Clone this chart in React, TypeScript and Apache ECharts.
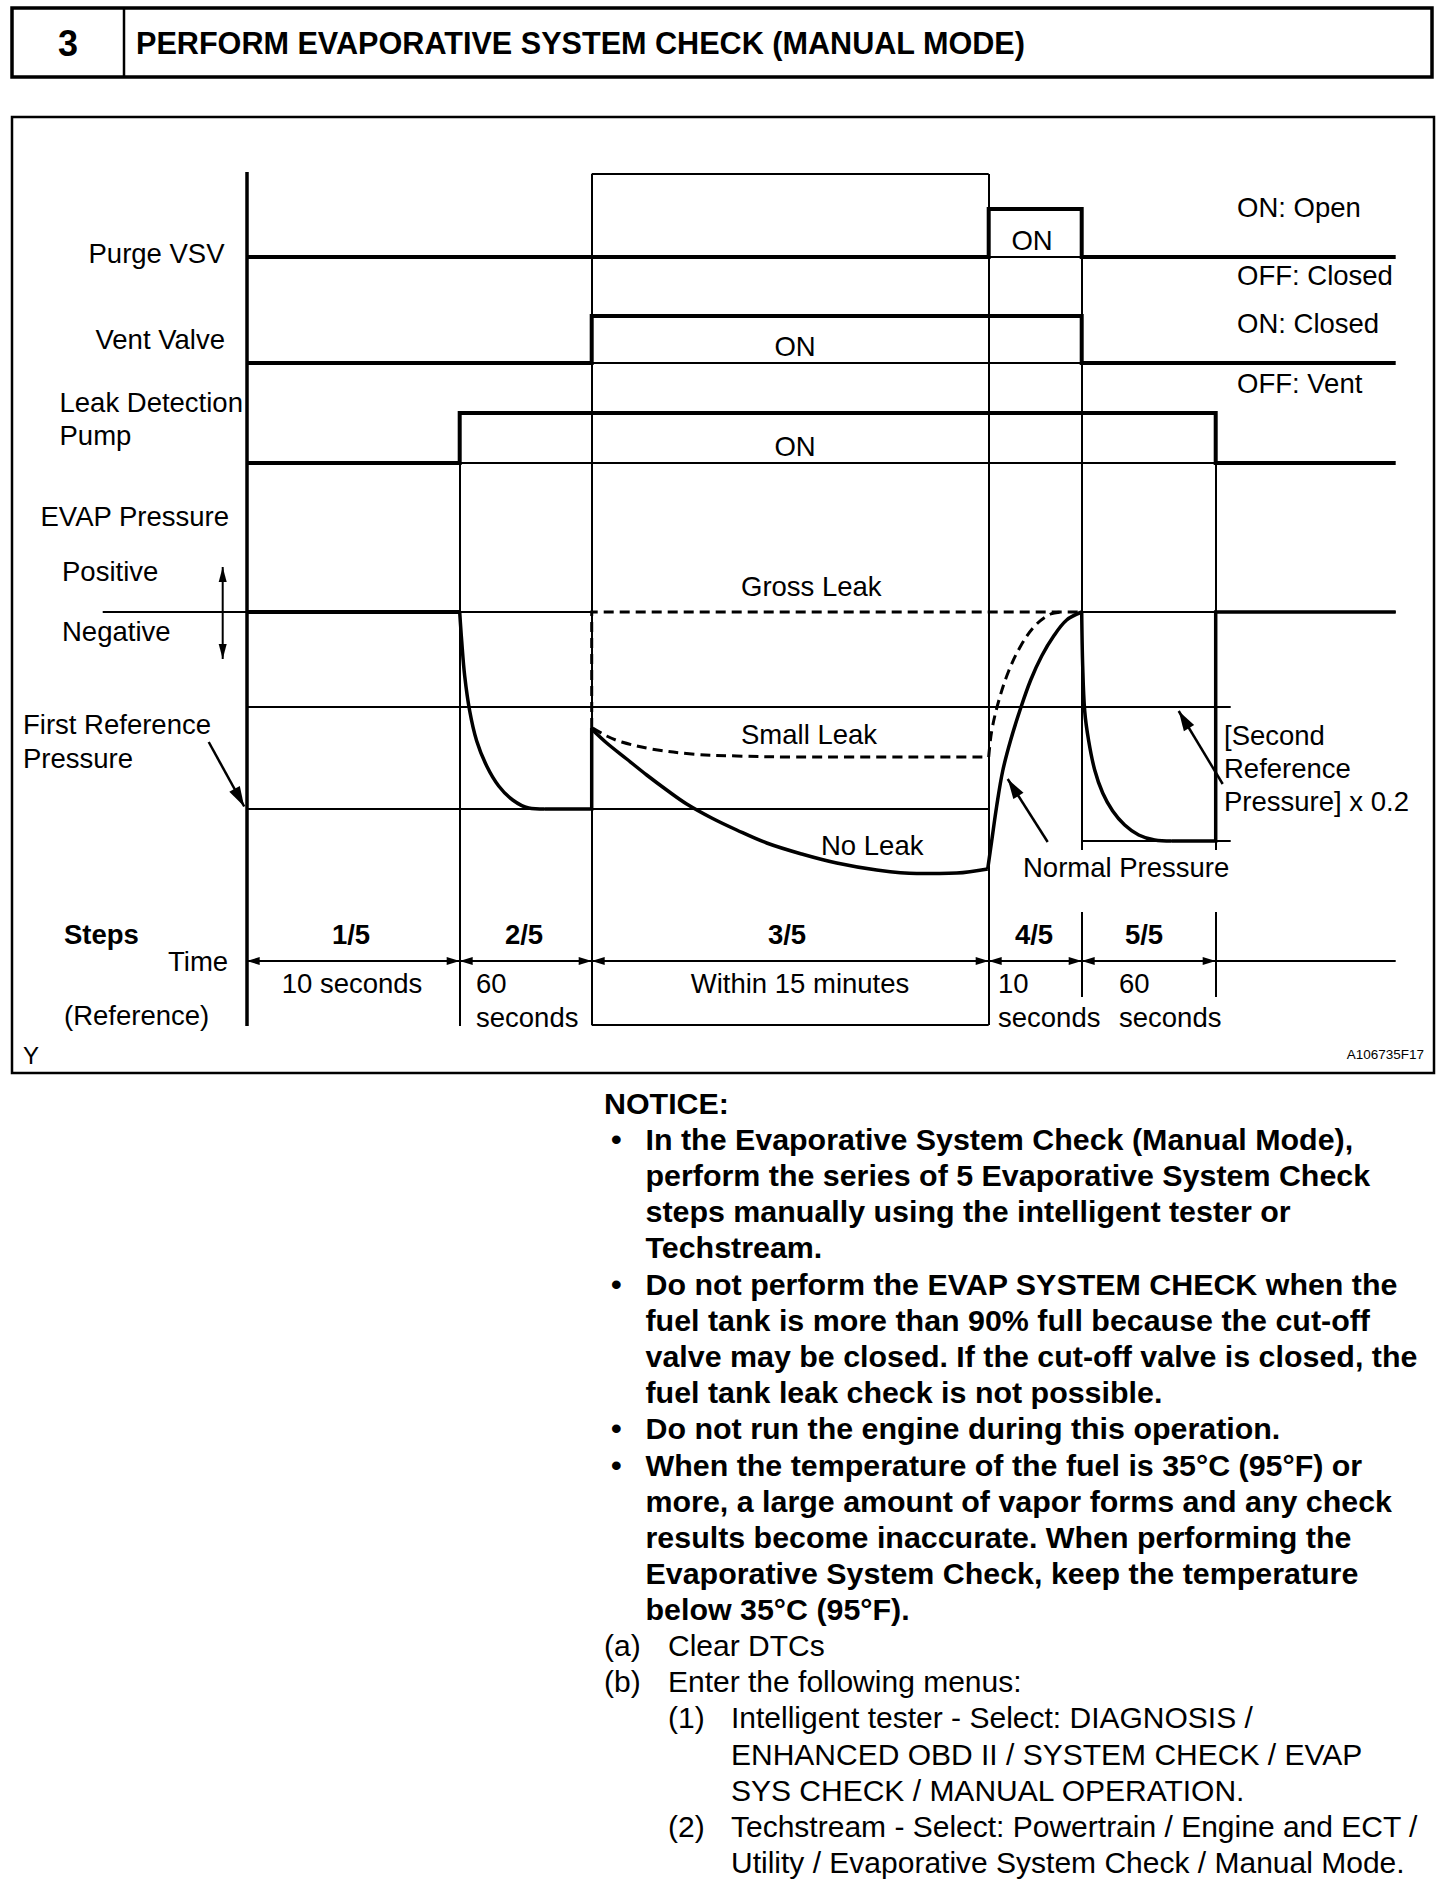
import React, { useEffect, useRef } from "react";
import * as echarts from "echarts";

const FONT = '"Liberation Sans", Arial, Helvetica, sans-serif';

// ---- time axis (diagram units) ----
const stepEdges = [0, 21.3, 34.5, 74.2, 83.5, 96.9];
const timeEnd = 114.9;
const stepLabels = ["1/5", "2/5", "3/5", "4/5", "5/5"];

// ---- control signals [time, level] ----
const purgeVSV = [[0, 76.9], [74.2, 76.9], [74.2, 81.7], [83.5, 81.7], [83.5, 76.9], [114.9, 76.9]];
const ventValve = [[0, 66.3], [34.5, 66.3], [34.5, 71.0], [83.5, 71.0], [83.5, 66.3], [114.9, 66.3]];
const leakPump = [[0, 56.3], [21.3, 56.3], [21.3, 61.3], [96.9, 61.3], [96.9, 56.3], [114.9, 56.3]];

// ---- EVAP pressure [time, level] ----
const evapAtmosphere = [[0, 41.4], [21.3, 41.4]];
const evapPumpDown = [[21.3, 41.4], [21.5, 38.5], [21.8, 35], [22.3, 31.5], [23, 28.5], [24, 26], [25.2, 24], [26.6, 22.6], [28.2, 21.8], [29.8, 21.7]];
const evapFirstRef = [[29.8, 21.7], [34.5, 21.7], [34.5, 29.8]];
const noLeak = [[34.6, 29.6], [36, 28.3], [38, 26.7], [40, 25.1], [42, 23.6], [44, 22.2], [46.5, 20.8], [49, 19.6], [52, 18.3], [55.5, 17.2], [59, 16.3], [63, 15.6], [67, 15.25], [71, 15.3], [74.1, 15.7]];
const normalPressure = [[74.1, 15.7], [74.5, 18.5], [75, 22], [75.6, 25.5], [76.4, 28.6], [77.4, 31.8], [78.4, 34.6], [79.5, 37], [80.7, 39], [82, 40.6], [83.5, 41.4]];
const secondDecay = [[83.5, 41.4], [83.6, 36], [83.8, 31.5], [84.2, 28.5], [84.8, 25.6], [85.6, 23.3], [86.6, 21.5], [87.8, 20.1], [89.2, 19.1], [90.8, 18.6], [92.5, 18.5]];
const secondRefHold = [[92.5, 18.5], [96.9, 18.5], [96.9, 41.4], [114.9, 41.4]];
const grossLeak = [[34.5, 29.8], [34.5, 41.4], [83.5, 41.4]];
const smallLeak = [[34.6, 29.8], [36, 29], [37.5, 28.4], [40.5, 27.7], [44.5, 27.2], [49, 27], [55, 26.9], [74.2, 26.9]];
const smallLeakRise = [[74.2, 26.9], [74.5, 29.5], [75.2, 32.5], [76.2, 35.5], [77.4, 38], [78.8, 40], [80.4, 41.2], [81.8, 41.4]];

// ---- thin reference lines ----
const hLines = [ // [level, from, to]
  [41.4, -14.4, 34.5],
  [41.4, 83.5, 114.9],
  [31.9, 0, 98.4],
  [21.7, 0, 74.2],
  [18.5, 83.5, 98.4],
  [76.9, 74.2, 83.5],
  [66.3, 34.5, 83.5],
  [56.3, 21.3, 96.9],
  [85.2, 34.5, 74.2],
  [0.1, 34.5, 74.2],
  [6.5, 96.9, 114.9],
];
const vLines = [ // [time, from, to]
  [21.3, 61.3, 0],
  [34.5, 85.2, 0.1],
  [74.2, 85.2, 0.1],
  [83.5, 81.7, 17.6],
  [96.9, 61.3, 17.6],
  [83.5, 11.4, 2.9],
  [96.9, 11.4, 2.9],
];
const mainAxis = [[0, 85.4], [0, 0]];
const stepArrowLevel = 6.5;

// ---- annotation arrows [x1, y1, x2, y2] ----
const posNegArrow = [[-2.4, 45.9, -2.4, 36.7]];
const pointerArrows = [
  [-3.8, 28.4, -0.25, 21.95],
  [80.1, 18.4, 76.1, 24.7],
  [97.6, 24.2, 93.2, 31.5],
];

// ---- notice text ----
const noticeLines = [
  ["head", "", "NOTICE:"],
  ["bullet", "•", "In the Evaporative System Check (Manual Mode),"],
  ["cont", "", "perform the series of 5 Evaporative System Check"],
  ["cont", "", "steps manually using the intelligent tester or"],
  ["cont", "", "Techstream."],
  ["bullet", "•", "Do not perform the EVAP SYSTEM CHECK when the"],
  ["cont", "", "fuel tank is more than 90% full because the cut-off"],
  ["cont", "", "valve may be closed. If the cut-off valve is closed, the"],
  ["cont", "", "fuel tank leak check is not possible."],
  ["bullet", "•", "Do not run the engine during this operation."],
  ["bullet", "•", "When the temperature of the fuel is 35°C (95°F) or"],
  ["cont", "", "more, a large amount of vapor forms and any check"],
  ["cont", "", "results become inaccurate. When performing the"],
  ["cont", "", "Evaporative System Check, keep the temperature"],
  ["cont", "", "below 35°C (95°F)."],
  ["alpha", "(a)", "Clear DTCs"],
  ["alpha", "(b)", "Enter the following menus:"],
  ["num", "(1)", "Intelligent tester - Select: DIAGNOSIS /"],
  ["numcont", "", "ENHANCED OBD II / SYSTEM CHECK / EVAP"],
  ["numcont", "", "SYS CHECK / MANUAL OPERATION."],
  ["num", "(2)", "Techstream - Select: Powertrain / Engine and ECT /"],
  ["numcont", "", "Utility / Evaporative System Check / Manual Mode."],
];

function txt(text: string, x: number, y: number, o: any = {}) {
  const align = o.align || "left";
  return {
    type: "text",
    x,
    y,
    z: 20,
    silent: true,
    style: {
      text,
      fill: "#000",
      fontSize: o.size || 27.5,
      fontWeight: o.bold ? "bold" : "normal",
      fontFamily: FONT,
      textAlign: align,
      align,
      textVerticalAlign: "middle",
      verticalAlign: "middle",
    },
  };
}

// custom-series renderer: shaft + filled arrowheads, positioned through api.coord
function arrowRenderer(headLen: number, headHalf: number, both: boolean, lineWidth: number) {
  return (params: any, api: any) => {
    const a = api.coord([api.value(0), api.value(1)]);
    const b = api.coord([api.value(2), api.value(3)]);
    const dx = b[0] - a[0];
    const dy = b[1] - a[1];
    const L = Math.hypot(dx, dy) || 1;
    const ux = dx / L;
    const uy = dy / L;
    const nx = -uy;
    const ny = ux;
    const head = (tip: number[], sx: number, sy: number) => ({
      type: "polygon",
      shape: {
        points: [
          [tip[0], tip[1]],
          [tip[0] - sx * headLen + nx * headHalf, tip[1] - sy * headLen + ny * headHalf],
          [tip[0] - sx * headLen - nx * headHalf, tip[1] - sy * headLen - ny * headHalf],
        ],
      },
      style: { fill: "#000", stroke: "none" },
    });
    const children: any[] = [
      { type: "line", shape: { x1: a[0], y1: a[1], x2: b[0], y2: b[1] }, style: { stroke: "#000", lineWidth } },
      head(b, ux, uy),
    ];
    if (both) children.push(head(a, -ux, -uy));
    return { type: "group", children };
  };
}

function buildOption() {
  const black = "#000";
  const thick = (data: number[][], extra: any = {}) => ({
    type: "line",
    data,
    symbol: "none",
    silent: true,
    z: 5,
    smooth: extra.smooth || false,
    lineStyle: { color: black, width: extra.width || 4, type: extra.dash ? [10, 6] : "solid", join: "miter", cap: "butt" },
  });

  const thinData: any[] = [];
  hLines.forEach(([y, a, b]) => thinData.push({ coords: [[a, y], [b, y]] }));
  vLines.forEach(([x, a, b]) => thinData.push({ coords: [[x, a], [x, b]] }));

  const stepArrowData = stepEdges.slice(0, -1).map((e, i) => [e, stepArrowLevel, stepEdges[i + 1], stepArrowLevel]);

  const graphics: any[] = [];
  // header
  graphics.push({ type: "rect", z: 10, shape: { x: 12, y: 8, width: 1420, height: 69 }, style: { fill: "none", stroke: black, lineWidth: 3.5 } });
  graphics.push({ type: "line", z: 10, shape: { x1: 124, y1: 8, x2: 124, y2: 77 }, style: { stroke: black, lineWidth: 2.5 } });
  graphics.push(txt("3", 68, 43, { size: 36, bold: true, align: "center" }));
  graphics.push(txt("PERFORM EVAPORATIVE SYSTEM CHECK (MANUAL MODE)", 136, 43, { size: 30.6, bold: true }));
  // diagram frame
  graphics.push({ type: "rect", z: 10, shape: { x: 12, y: 117, width: 1422, height: 956 }, style: { fill: "none", stroke: black, lineWidth: 2.5 } });

  // left labels
  graphics.push(txt("Purge VSV", 88.5, 253));
  graphics.push(txt("Vent Valve", 95.5, 339));
  graphics.push(txt("Leak Detection", 59.5, 402));
  graphics.push(txt("Pump", 59.5, 435));
  graphics.push(txt("EVAP Pressure", 40.5, 516));
  graphics.push(txt("Positive", 62, 571));
  graphics.push(txt("Negative", 62, 631));
  graphics.push(txt("First Reference", 23, 724));
  graphics.push(txt("Pressure", 23, 758));
  graphics.push(txt("Steps", 64, 934, { bold: true }));
  graphics.push(txt("Time", 168, 961));
  graphics.push(txt("(Reference)", 64, 1015));
  graphics.push(txt("Y", 23, 1055, { size: 24 }));
  // right labels
  graphics.push(txt("ON: Open", 1237, 207));
  graphics.push(txt("OFF: Closed", 1237, 275));
  graphics.push(txt("ON: Closed", 1237, 323));
  graphics.push(txt("OFF: Vent", 1237, 383));
  // ON labels
  graphics.push(txt("ON", 1032, 240, { align: "center" }));
  graphics.push(txt("ON", 795, 346, { align: "center" }));
  graphics.push(txt("ON", 795, 446, { align: "center" }));
  // pressure labels
  graphics.push(txt("Gross Leak", 741, 586));
  graphics.push(txt("Small Leak", 741, 734));
  graphics.push(txt("No Leak", 821, 845));
  graphics.push(txt("Normal Pressure", 1023, 867));
  graphics.push(txt("[Second", 1224, 735));
  graphics.push(txt("Reference", 1224, 768));
  graphics.push(txt("Pressure] x 0.2", 1224, 801));
  // steps
  const stepCenters = [351, 524, 787, 1034, 1144];
  stepLabels.forEach((s, i) => graphics.push(txt(s, stepCenters[i], 934, { bold: true, align: "center" })));
  graphics.push(txt("10 seconds", 352, 983, { align: "center" }));
  graphics.push(txt("60", 476, 983));
  graphics.push(txt("seconds", 476, 1017));
  graphics.push(txt("Within 15 minutes", 800, 983, { align: "center" }));
  graphics.push(txt("10", 998, 983));
  graphics.push(txt("seconds", 998, 1017));
  graphics.push(txt("60", 1119, 983));
  graphics.push(txt("seconds", 1119, 1017));
  graphics.push(txt("A106735F17", 1424, 1054, { size: 13.5, align: "right" }));

  // notice
  noticeLines.forEach(([kind, marker, text], i) => {
    const y = 1102.5 + 36.2 * i;
    const bold = kind === "head" || kind === "bullet" || kind === "cont";
    const size = bold ? 30.4 : 30;
    let mx = 0;
    let tx = 604;
    if (kind === "bullet") { mx = 611; tx = 645.5; }
    else if (kind === "cont") tx = 645.5;
    else if (kind === "alpha") { mx = 604; tx = 668; }
    else if (kind === "num") { mx = 668; tx = 731; }
    else if (kind === "numcont") tx = 731;
    if (marker) graphics.push(txt(marker, mx, y, { size, bold }));
    graphics.push(txt(text, tx, y, { size, bold }));
  });

  const arrowSeries = (data: number[][], render: any) => ({
    type: "custom",
    coordinateSystem: "cartesian2d",
    silent: true,
    clip: false,
    z: 4,
    encode: { x: [0, 2], y: [1, 3] },
    data,
    renderItem: render,
  });

  return {
    animation: false,
    backgroundColor: "#ffffff",
    grid: { left: 6.7, top: 126, width: 1440, height: 900, containLabel: false, show: false },
    xAxis: { type: "value", min: -24, max: 120, show: false },
    yAxis: { type: "value", min: 0, max: 90, show: false },
    series: [
      {
        type: "lines",
        coordinateSystem: "cartesian2d",
        silent: true,
        z: 2,
        symbol: "none",
        lineStyle: { color: black, width: 2, opacity: 1, curveness: 0 },
        data: thinData,
      },
      {
        type: "lines",
        coordinateSystem: "cartesian2d",
        silent: true,
        z: 3,
        symbol: "none",
        lineStyle: { color: black, width: 3.5, opacity: 1, curveness: 0 },
        data: [{ coords: mainAxis }],
      },
      arrowSeries(stepArrowData, arrowRenderer(13, 4, true, 2)),
      arrowSeries(posNegArrow, arrowRenderer(15, 4, true, 2)),
      arrowSeries(pointerArrows, arrowRenderer(20, 6, false, 2.5)),
      thick(purgeVSV),
      thick(ventValve),
      thick(leakPump),
      thick(evapAtmosphere, { width: 4 }),
      thick(evapPumpDown, { width: 3.5, smooth: 0.35 }),
      thick(evapFirstRef, { width: 3.5 }),
      thick(noLeak, { width: 3.5, smooth: 0.35 }),
      thick(normalPressure, { width: 3.5, smooth: 0.35 }),
      thick(secondDecay, { width: 3.5, smooth: 0.35 }),
      thick(secondRefHold, { width: 3.5 }),
      thick(grossLeak, { width: 3, dash: true }),
      thick(smallLeak, { width: 3, dash: true, smooth: 0.35 }),
      thick(smallLeakRise, { width: 3, dash: true, smooth: 0.35 }),
    ],
    graphic: { elements: graphics },
  };
}

export default function App() {
  const ref = useRef<HTMLDivElement>(null);
  useEffect(() => {
    if (!ref.current) return;
    const chart = echarts.init(ref.current, null, { renderer: "svg", width: 1456, height: 1892 });
    chart.setOption(buildOption() as any);
    return () => chart.dispose();
  }, []);
  return (
    <div
      ref={ref}
      style={{ position: "absolute", left: 0, top: 0, width: 1456, height: 1892, background: "#fff" }}
    />
  );
}
